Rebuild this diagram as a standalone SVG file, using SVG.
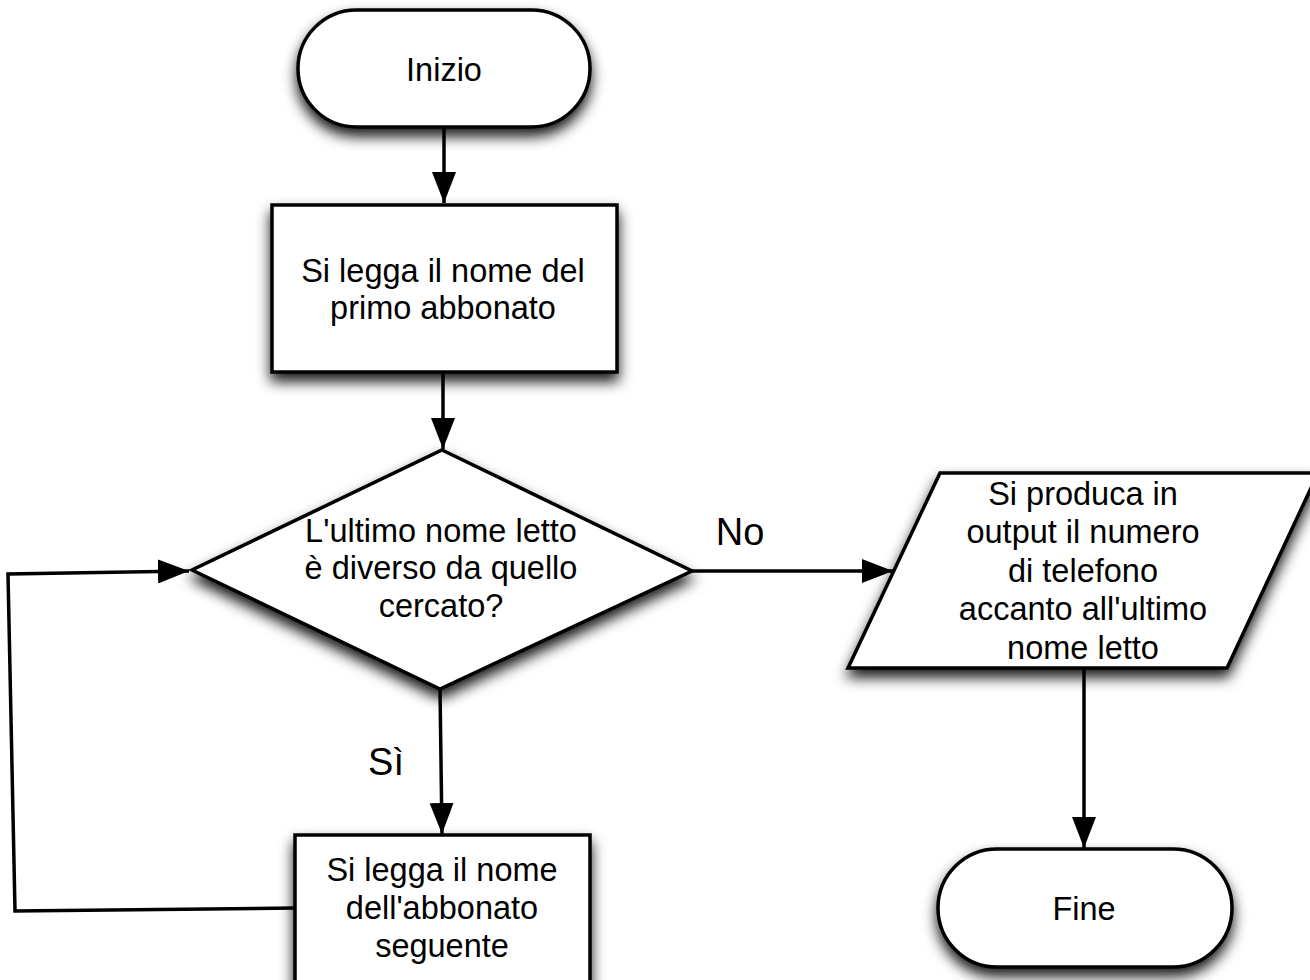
<svg xmlns="http://www.w3.org/2000/svg" width="1310" height="980" viewBox="0 0 1310 980">
  <defs>
    <filter id="shadow" x="-20%" y="-20%" width="140%" height="160%">
      <feDropShadow dx="0" dy="8" stdDeviation="7" flood-color="#000" flood-opacity="0.9"/>
    </filter>
    <marker id="arrow" markerUnits="userSpaceOnUse" markerWidth="32" markerHeight="24" refX="31" refY="12" orient="auto">
      <path d="M0,0 L31,12 L0,24 z" fill="#000"/>
    </marker>
  </defs>
  <style>
    .shape { fill: #fff; stroke: #000; stroke-width: 3.5; filter: url(#shadow); }
    .label { font-family: "Liberation Sans", Arial, sans-serif; font-size: 32.5px; fill: #000; text-anchor: middle; }
    .edge-label { font-family: "Liberation Sans", Arial, sans-serif; font-size: 38px; fill: #000; text-anchor: middle; }
    .link { fill: none; stroke: #000; stroke-width: 3.5; }
    .arrowed { marker-end: url(#arrow); }
  </style>
  <rect width="1310" height="980" fill="#fff"/>

  <!-- connectors -->
  <g id="connectors">
    <line class="link arrowed" x1="444" y1="127" x2="444" y2="203"/>
    <line class="link arrowed" x1="443" y1="372" x2="443" y2="449"/>
    <line class="link arrowed" x1="692" y1="571" x2="893" y2="571"/>
    <line class="link arrowed" x1="440" y1="689" x2="442" y2="834"/>
    <line class="link arrowed" x1="1084" y1="668" x2="1084" y2="848"/>
    <polyline class="link arrowed" points="295,908 15,911 8,574 189,571"/>
    <text class="edge-label" x="740" y="545">No</text>
    <text class="edge-label" x="386" y="775">Sì</text>
  </g>

  <g id="start">
    <rect class="shape" x="298" y="10" width="292" height="117" rx="58.5" ry="58.5"/>
    <text class="label" x="444" y="81">Inizio</text>
  </g>

  <g id="read-first">
    <rect class="shape" x="272" y="205" width="345" height="167"/>
    <text class="label" x="443" y="282">Si legga il nome del</text>
    <text class="label" x="443" y="319">primo abbonato</text>
  </g>

  <g id="decision">
    <polygon class="shape" points="442,450 692,571 440,689 192,570"/>
    <text class="label" x="441" y="542">L'ultimo nome letto</text>
    <text class="label" x="441" y="579">è diverso da quello</text>
    <text class="label" x="441" y="617">cercato?</text>
  </g>

  <g id="output">
    <polygon class="shape" points="940,473 1318,473 1227,668 848,668"/>
    <text class="label" x="1083" y="505">Si produca in</text>
    <text class="label" x="1083" y="543">output il numero</text>
    <text class="label" x="1083" y="582">di telefono</text>
    <text class="label" x="1083" y="620">accanto all'ultimo</text>
    <text class="label" x="1083" y="659">nome letto</text>
  </g>

  <g id="read-next">
    <rect class="shape" x="295" y="835" width="295" height="170"/>
    <text class="label" x="442" y="881">Si legga il nome</text>
    <text class="label" x="442" y="919">dell'abbonato</text>
    <text class="label" x="442" y="957">seguente</text>
  </g>

  <g id="end">
    <rect class="shape" x="938" y="849" width="294" height="118" rx="59" ry="59"/>
    <text class="label" x="1084" y="920">Fine</text>
  </g>
</svg>
